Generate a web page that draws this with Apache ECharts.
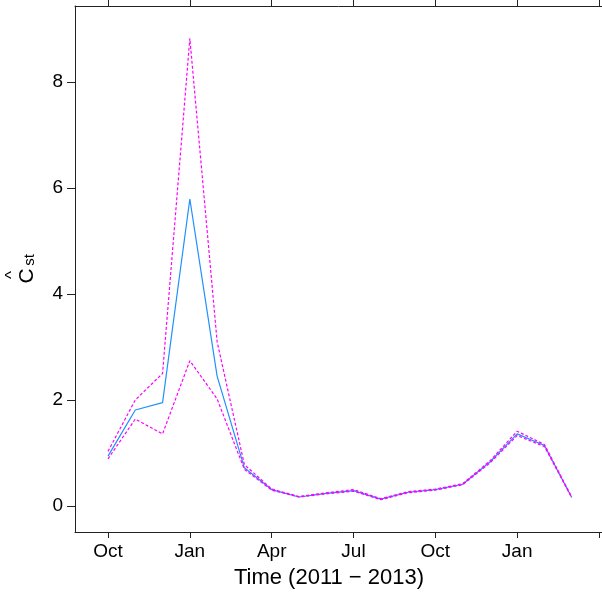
<!DOCTYPE html>
<html>
<head>
<meta charset="utf-8">
<script src="https://cdn.jsdelivr.net/npm/echarts@6/dist/echarts.min.js"></script>
<style>html,body{margin:0;padding:0;background:#fff}#c{width:602px;height:596px}</style>
</head>
<body>
<div id="c"></div>
<script>
// Month index: 0 = Oct 2011 ... 17 = Mar 2013
const monthIdx = [0,1,2,3,4,5,6,7,8,9,10,11,12,13,14,15,16,17];
const estimate = [0.94,1.81,1.95,5.79,2.45,0.72,0.31,0.17,0.24,0.29,0.13,0.26,0.31,0.41,0.83,1.36,1.14,0.16];
const upper    = [1.03,2.00,2.50,8.82,3.10,0.78,0.32,0.18,0.25,0.31,0.14,0.27,0.32,0.42,0.85,1.41,1.16,0.17];
const lower    = [0.89,1.64,1.36,2.74,2.02,0.69,0.30,0.17,0.23,0.28,0.12,0.25,0.30,0.40,0.81,1.33,1.12,0.16];
const xTickValues = [0,3,6,9,12,15,18];
const xTickLabels = ['Oct','Jan','Apr','Jul','Oct','Jan'];
const yTickValues = [0,2,4,6,8];

const font = 'Liberation Sans, Arial, sans-serif';
const pair = a => monthIdx.map((m,i)=>[m,a[i]]);

const chart = echarts.init(document.getElementById('c'));
chart.setOption({
  animation:false,
  backgroundColor:'#fff',
  grid:{left:75, top:6, width:527, bottom:64},
  xAxis:[{
    type:'value', min:-1.21, max:18.11,
    axisLine:{show:true, onZero:false, lineStyle:{color:'#222', width:1}},
    splitLine:{show:false},
    axisTick:{show:true, length:6, customValues:xTickValues, lineStyle:{color:'#222'}},
    axisLabel:{show:true, customValues:xTickValues.slice(0,6), margin:10,
      formatter:v=>xTickLabels[xTickValues.indexOf(Math.round(v))] || '',
      color:'#000', fontSize:19, fontFamily:font}
  },{
    type:'value', position:'top', min:-1.21, max:18.11,
    axisLine:{show:true, onZero:false, lineStyle:{color:'#222', width:1}},
    splitLine:{show:false},
    axisTick:{show:true, length:6, customValues:xTickValues, lineStyle:{color:'#222'}},
    axisLabel:{show:false}
  }],
  yAxis:{
    type:'value', min:-0.49, max:9.43,
    axisLine:{show:true, onZero:false, lineStyle:{color:'#222', width:1}},
    splitLine:{show:false},
    axisTick:{show:true, length:8, customValues:yTickValues, lineStyle:{color:'#222'}},
    axisLabel:{show:true, customValues:yTickValues, margin:12, color:'#000', fontSize:19, fontFamily:font}
  },
  series:[
    {type:'line', data:pair(estimate), showSymbol:false, lineStyle:{color:'#1E90FF', width:1.2}},
    {type:'line', data:pair(lower), showSymbol:false, lineStyle:{color:'#FF00FF', width:1.2, type:[3,2]}},
    {type:'line', data:pair(upper), showSymbol:false, lineStyle:{color:'#FF00FF', width:1.2, type:[3,2]}}
  ],
  graphic:[
    {type:'text', style:{text:'Time (2011 \u2212 2013)', font:'22px '+font, fill:'#000', x:329, y:578, align:'center', verticalAlign:'middle'}},
    {type:'group', x:27, y:276, rotation:Math.PI/2, children:[
      {type:'text', style:{text:'C', x:0, y:0, font:'21px '+font, fill:'#000', align:'center', verticalAlign:'middle'}},
      {type:'text', style:{text:'^', x:1, y:-15, font:'17px '+font, fill:'#000', align:'center', verticalAlign:'middle'}},
      {type:'text', style:{text:'st', x:16, y:3, font:'15px '+font, fill:'#000', align:'center', verticalAlign:'middle'}}
    ]}
  ]
});
</script>
</body>
</html>
